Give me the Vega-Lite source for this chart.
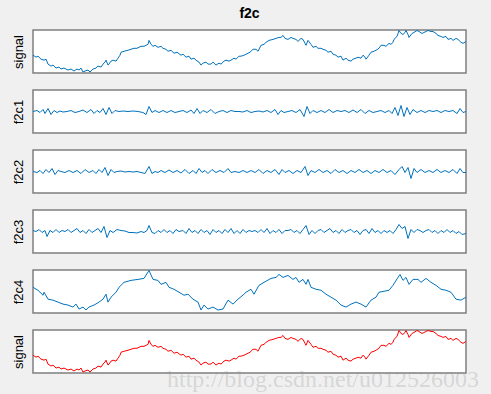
{
  "$schema": "https://vega.github.io/schema/vega-lite/v6.json",
  "autosize": {"type": "pad"},
  "padding": {"left": 11, "top": 6, "right": 13, "bottom": 8},
  "background": "#f0f0f0",
  "bounds": "flush",
  "spacing": 17,
  "config": {
    "view": {"stroke": "#7f7f7f", "strokeWidth": 1.5, "fill": "white"},
    "axis": {"domain": false, "ticks": false, "labels": false, "grid": false, "titleFont": "Liberation Sans", "titleFontSize": 13, "titleFontWeight": "normal", "titleColor": "#000000", "titlePadding": 8},
    "title": {"font": "Liberation Sans", "fontSize": 13, "fontWeight": "bold", "color": "#000000"}
  },
  "datasets": {
    "signal": [
      {"t":0,"v":18},{"t":3,"v":16},{"t":5,"v":17},{"t":8,"v":14},{"t":11,"v":13},{"t":13,"v":14},{"t":15,"v":9},{"t":18,"v":7},{"t":20,"v":8},{"t":23,"v":5},{"t":26,"v":6},{"t":28,"v":4},{"t":31,"v":5},{"t":35,"v":3},{"t":38,"v":4},{"t":41,"v":2},{"t":44,"v":4},{"t":46,"v":3},{"t":48,"v":5},{"t":50,"v":1},{"t":52,"v":2},{"t":55,"v":3},{"t":57,"v":1},{"t":60,"v":4},{"t":63,"v":5},{"t":65,"v":7},{"t":68,"v":6},{"t":70,"v":9},{"t":72,"v":11},{"t":73,"v":13},{"t":75,"v":8},{"t":76,"v":9},{"t":78,"v":12},{"t":80,"v":13},{"t":83,"v":12},{"t":85,"v":15},{"t":87,"v":18},{"t":88,"v":21},{"t":91,"v":22},{"t":95,"v":23},{"t":98,"v":24},{"t":101,"v":25},{"t":104,"v":25},{"t":108,"v":27},{"t":111,"v":27},{"t":115,"v":29},{"t":116,"v":33},{"t":118,"v":29},{"t":120,"v":27},{"t":122,"v":28},{"t":125,"v":26},{"t":128,"v":27},{"t":130,"v":25},{"t":133,"v":24},{"t":135,"v":22},{"t":138,"v":23},{"t":141,"v":20},{"t":144,"v":21},{"t":148,"v":18},{"t":150,"v":19},{"t":153,"v":16},{"t":156,"v":17},{"t":158,"v":14},{"t":161,"v":15},{"t":163,"v":13},{"t":166,"v":11},{"t":168,"v":8},{"t":170,"v":10},{"t":173,"v":11},{"t":175,"v":9},{"t":178,"v":9},{"t":180,"v":11},{"t":183,"v":8},{"t":186,"v":10},{"t":188,"v":9},{"t":191,"v":12},{"t":193,"v":13},{"t":196,"v":12},{"t":198,"v":13},{"t":201,"v":15},{"t":203,"v":14},{"t":206,"v":17},{"t":208,"v":17},{"t":211,"v":18},{"t":213,"v":19},{"t":217,"v":21},{"t":220,"v":24},{"t":223,"v":24},{"t":225,"v":22},{"t":228,"v":28},{"t":231,"v":29},{"t":233,"v":31},{"t":236,"v":33},{"t":240,"v":34},{"t":243,"v":35},{"t":246,"v":36},{"t":248,"v":36},{"t":250,"v":38},{"t":252,"v":35},{"t":255,"v":34},{"t":258,"v":36},{"t":260,"v":35},{"t":263,"v":34},{"t":265,"v":32},{"t":268,"v":35},{"t":270,"v":34},{"t":272,"v":30},{"t":273,"v":28},{"t":275,"v":33},{"t":278,"v":29},{"t":280,"v":26},{"t":283,"v":27},{"t":285,"v":25},{"t":288,"v":25},{"t":290,"v":24},{"t":293,"v":23},{"t":295,"v":21},{"t":298,"v":22},{"t":300,"v":19},{"t":303,"v":18},{"t":305,"v":16},{"t":308,"v":17},{"t":310,"v":13},{"t":313,"v":15},{"t":315,"v":13},{"t":318,"v":12},{"t":320,"v":14},{"t":323,"v":15},{"t":325,"v":16},{"t":328,"v":15},{"t":330,"v":18},{"t":332,"v":16},{"t":333,"v":14},{"t":336,"v":18},{"t":338,"v":21},{"t":341,"v":22},{"t":343,"v":23},{"t":346,"v":25},{"t":348,"v":28},{"t":351,"v":28},{"t":353,"v":27},{"t":356,"v":30},{"t":358,"v":29},{"t":360,"v":31},{"t":361,"v":34},{"t":364,"v":37},{"t":366,"v":43},{"t":368,"v":40},{"t":370,"v":39},{"t":372,"v":41},{"t":373,"v":43},{"t":375,"v":39},{"t":376,"v":36},{"t":379,"v":40},{"t":381,"v":41},{"t":384,"v":43},{"t":386,"v":42},{"t":389,"v":40},{"t":391,"v":41},{"t":393,"v":42},{"t":395,"v":43},{"t":398,"v":42},{"t":400,"v":42},{"t":403,"v":40},{"t":405,"v":38},{"t":408,"v":37},{"t":410,"v":36},{"t":413,"v":37},{"t":415,"v":34},{"t":418,"v":35},{"t":420,"v":33},{"t":423,"v":35},{"t":425,"v":34},{"t":428,"v":31},{"t":430,"v":30},{"t":433,"v":32}
    ],
    "f2c1": [
      {"t":0,"v":0},{"t":4,"v":1},{"t":7,"v":-1},{"t":10,"v":2},{"t":12,"v":-2},{"t":15,"v":3},{"t":18,"v":-3},{"t":21,"v":1},{"t":24,"v":-1},{"t":27,"v":0.5},{"t":30,"v":-0.5},{"t":34,"v":0},{"t":38,"v":1},{"t":42,"v":-1},{"t":46,"v":0},{"t":50,"v":1.5},{"t":54,"v":-1},{"t":58,"v":2},{"t":61,"v":-2},{"t":64,"v":1},{"t":67,"v":-1},{"t":70,"v":3},{"t":73,"v":-3},{"t":76,"v":4},{"t":79,"v":-2},{"t":82,"v":1},{"t":86,"v":0},{"t":90,"v":0.5},{"t":95,"v":0},{"t":100,"v":0.5},{"t":105,"v":0},{"t":110,"v":-1},{"t":113,"v":-3},{"t":116,"v":5},{"t":119,"v":-1},{"t":122,"v":1},{"t":126,"v":-1},{"t":130,"v":1},{"t":134,"v":-1},{"t":138,"v":1},{"t":142,"v":-1},{"t":146,"v":0},{"t":150,"v":1},{"t":154,"v":-1},{"t":158,"v":1.5},{"t":161,"v":-2},{"t":164,"v":3},{"t":167,"v":-2},{"t":170,"v":1},{"t":174,"v":-1},{"t":178,"v":2},{"t":182,"v":-2},{"t":186,"v":0},{"t":190,"v":1},{"t":194,"v":-1},{"t":198,"v":1},{"t":202,"v":0},{"t":206,"v":0},{"t":210,"v":-0.5},{"t":214,"v":1},{"t":218,"v":-1},{"t":222,"v":0},{"t":226,"v":0.5},{"t":230,"v":-0.5},{"t":234,"v":1},{"t":238,"v":-1},{"t":242,"v":2},{"t":245,"v":-3},{"t":248,"v":1},{"t":251,"v":-1},{"t":255,"v":0},{"t":259,"v":1},{"t":263,"v":-1},{"t":267,"v":2},{"t":271,"v":-5},{"t":274,"v":5},{"t":277,"v":-2},{"t":280,"v":1},{"t":284,"v":-1},{"t":288,"v":1},{"t":292,"v":-1},{"t":296,"v":2},{"t":300,"v":-1},{"t":304,"v":1},{"t":308,"v":0},{"t":312,"v":1},{"t":316,"v":-1},{"t":320,"v":1.5},{"t":324,"v":-1},{"t":328,"v":2},{"t":332,"v":-2},{"t":336,"v":1},{"t":340,"v":-1},{"t":344,"v":0},{"t":348,"v":1},{"t":352,"v":-1},{"t":356,"v":1},{"t":359,"v":-2},{"t":362,"v":4},{"t":365,"v":-4},{"t":368,"v":6},{"t":371,"v":-5},{"t":374,"v":4},{"t":377,"v":-3},{"t":380,"v":2},{"t":384,"v":-1},{"t":388,"v":1},{"t":392,"v":-1},{"t":396,"v":1},{"t":400,"v":0},{"t":404,"v":1},{"t":408,"v":-1},{"t":412,"v":1},{"t":416,"v":0},{"t":420,"v":1},{"t":424,"v":-2},{"t":427,"v":3},{"t":430,"v":-1},{"t":433,"v":0}
    ],
    "f2c2": [
      {"t":0,"v":0},{"t":4,"v":-1},{"t":7,"v":1},{"t":10,"v":-2},{"t":13,"v":2},{"t":16,"v":-1},{"t":19,"v":3},{"t":22,"v":-3},{"t":25,"v":1},{"t":28,"v":0},{"t":32,"v":-1},{"t":36,"v":1},{"t":40,"v":-1},{"t":44,"v":1},{"t":48,"v":-2},{"t":52,"v":2},{"t":56,"v":-1},{"t":60,"v":1},{"t":63,"v":-2},{"t":66,"v":2},{"t":69,"v":-1},{"t":72,"v":4},{"t":75,"v":-4},{"t":78,"v":2},{"t":81,"v":-1},{"t":84,"v":0},{"t":88,"v":0.5},{"t":92,"v":-0.5},{"t":96,"v":0},{"t":100,"v":-0.5},{"t":104,"v":0},{"t":108,"v":-1},{"t":112,"v":-2},{"t":116,"v":5},{"t":119,"v":-2},{"t":122,"v":0},{"t":125,"v":-1},{"t":128,"v":1},{"t":132,"v":-1},{"t":136,"v":1.5},{"t":140,"v":-1},{"t":144,"v":1},{"t":148,"v":-1.5},{"t":152,"v":2},{"t":156,"v":-2},{"t":160,"v":1},{"t":163,"v":-2},{"t":166,"v":3},{"t":169,"v":-1},{"t":172,"v":1},{"t":175,"v":-2},{"t":179,"v":2},{"t":183,"v":-1},{"t":187,"v":1},{"t":191,"v":-1},{"t":195,"v":3},{"t":198,"v":-1},{"t":202,"v":0},{"t":206,"v":-1},{"t":210,"v":1},{"t":214,"v":-1},{"t":218,"v":1},{"t":222,"v":-1},{"t":226,"v":2},{"t":230,"v":-2},{"t":234,"v":1},{"t":238,"v":-1},{"t":242,"v":2},{"t":246,"v":-3},{"t":249,"v":2},{"t":252,"v":-1},{"t":256,"v":1},{"t":260,"v":-2},{"t":264,"v":1},{"t":268,"v":-1},{"t":272,"v":5},{"t":275,"v":-4},{"t":278,"v":1},{"t":282,"v":-1},{"t":286,"v":2},{"t":290,"v":-1},{"t":294,"v":1},{"t":298,"v":-2},{"t":302,"v":2},{"t":306,"v":-1},{"t":310,"v":1},{"t":314,"v":-2},{"t":318,"v":1},{"t":322,"v":-1},{"t":326,"v":2},{"t":330,"v":-1},{"t":334,"v":1},{"t":338,"v":-2},{"t":342,"v":1},{"t":346,"v":-1},{"t":350,"v":2},{"t":354,"v":-1},{"t":358,"v":1},{"t":362,"v":-3},{"t":366,"v":2},{"t":369,"v":5},{"t":372,"v":-1},{"t":375,"v":4},{"t":378,"v":-7},{"t":381,"v":3},{"t":384,"v":-1},{"t":388,"v":2},{"t":392,"v":-1},{"t":396,"v":1},{"t":400,"v":-1},{"t":404,"v":2},{"t":408,"v":-1},{"t":412,"v":1},{"t":416,"v":-1},{"t":420,"v":2},{"t":424,"v":-2},{"t":427,"v":3},{"t":430,"v":-1},{"t":433,"v":-1}
    ],
    "f2c3": [
      {"t":0,"v":1},{"t":3,"v":0},{"t":6,"v":2},{"t":9,"v":-1},{"t":12,"v":1},{"t":14,"v":-5},{"t":17,"v":1},{"t":20,"v":-1},{"t":23,"v":2},{"t":26,"v":-1},{"t":29,"v":1},{"t":32,"v":0},{"t":35,"v":2},{"t":38,"v":-1},{"t":41,"v":1},{"t":44,"v":3},{"t":47,"v":-1},{"t":50,"v":1},{"t":53,"v":-2},{"t":56,"v":2},{"t":59,"v":-1},{"t":62,"v":1},{"t":65,"v":3},{"t":68,"v":-1},{"t":71,"v":5},{"t":74,"v":-6},{"t":77,"v":1},{"t":80,"v":-1},{"t":84,"v":2},{"t":88,"v":1},{"t":92,"v":0.5},{"t":96,"v":-1},{"t":100,"v":-1},{"t":104,"v":-1.5},{"t":108,"v":0},{"t":111,"v":-1},{"t":114,"v":1},{"t":116,"v":6},{"t":119,"v":-1},{"t":122,"v":-2},{"t":125,"v":1},{"t":128,"v":-1},{"t":131,"v":2},{"t":134,"v":-1},{"t":137,"v":1},{"t":140,"v":-2},{"t":143,"v":2},{"t":146,"v":0},{"t":150,"v":1},{"t":153,"v":-2},{"t":156,"v":3},{"t":159,"v":-1},{"t":162,"v":1},{"t":165,"v":-2},{"t":168,"v":2},{"t":171,"v":-1},{"t":174,"v":1},{"t":177,"v":-3},{"t":180,"v":2},{"t":183,"v":-1},{"t":186,"v":1},{"t":189,"v":-2},{"t":192,"v":2},{"t":195,"v":-1},{"t":198,"v":3},{"t":201,"v":-2},{"t":204,"v":1},{"t":207,"v":-2},{"t":210,"v":2},{"t":213,"v":-1},{"t":216,"v":1},{"t":219,"v":0},{"t":222,"v":1},{"t":225,"v":-1},{"t":228,"v":2},{"t":231,"v":-1},{"t":234,"v":3},{"t":237,"v":-2},{"t":240,"v":1},{"t":243,"v":-1},{"t":246,"v":2},{"t":249,"v":-2},{"t":252,"v":1},{"t":255,"v":1},{"t":258,"v":2},{"t":261,"v":-1},{"t":264,"v":1},{"t":267,"v":-2},{"t":270,"v":2},{"t":273,"v":6},{"t":276,"v":-3},{"t":279,"v":1},{"t":282,"v":-2},{"t":285,"v":1},{"t":288,"v":2},{"t":291,"v":-1},{"t":294,"v":1},{"t":297,"v":3},{"t":300,"v":-1},{"t":303,"v":1},{"t":306,"v":-2},{"t":309,"v":2},{"t":312,"v":-1},{"t":315,"v":1},{"t":318,"v":2},{"t":321,"v":-1},{"t":324,"v":1},{"t":327,"v":-3},{"t":330,"v":1},{"t":333,"v":2},{"t":336,"v":-2},{"t":339,"v":3},{"t":342,"v":-1},{"t":345,"v":1},{"t":348,"v":-2},{"t":351,"v":1},{"t":354,"v":-1},{"t":357,"v":1},{"t":360,"v":-2},{"t":363,"v":2},{"t":366,"v":7},{"t":369,"v":3},{"t":372,"v":5},{"t":375,"v":-7},{"t":378,"v":2},{"t":381,"v":-1},{"t":384,"v":2},{"t":387,"v":1},{"t":390,"v":-1},{"t":393,"v":1},{"t":396,"v":2},{"t":399,"v":-1},{"t":402,"v":1},{"t":405,"v":-2},{"t":408,"v":1},{"t":411,"v":-1},{"t":414,"v":2},{"t":417,"v":-1},{"t":420,"v":1},{"t":423,"v":-2},{"t":426,"v":0},{"t":429,"v":-3},{"t":433,"v":-2}
    ],
    "f2c4": [
      {"t":0,"v":26},{"t":5,"v":23},{"t":10,"v":18},{"t":11,"v":21},{"t":15,"v":14},{"t":20,"v":13},{"t":25,"v":11},{"t":30,"v":9},{"t":35,"v":8},{"t":40,"v":6},{"t":43,"v":9},{"t":46,"v":4},{"t":50,"v":6},{"t":53,"v":3},{"t":56,"v":6},{"t":61,"v":8},{"t":66,"v":11},{"t":70,"v":14},{"t":73,"v":19},{"t":75,"v":11},{"t":78,"v":16},{"t":83,"v":21},{"t":86,"v":26},{"t":91,"v":31},{"t":98,"v":33},{"t":105,"v":34},{"t":111,"v":35},{"t":116,"v":43},{"t":120,"v":34},{"t":125,"v":33},{"t":128,"v":29},{"t":133,"v":31},{"t":136,"v":26},{"t":141,"v":24},{"t":146,"v":21},{"t":151,"v":18},{"t":155,"v":19},{"t":160,"v":14},{"t":165,"v":11},{"t":168,"v":3},{"t":171,"v":8},{"t":175,"v":4},{"t":180,"v":6},{"t":185,"v":3},{"t":190,"v":4},{"t":195,"v":13},{"t":200,"v":9},{"t":205,"v":14},{"t":211,"v":19},{"t":213,"v":21},{"t":218,"v":24},{"t":221,"v":19},{"t":226,"v":28},{"t":231,"v":31},{"t":238,"v":35},{"t":243,"v":36},{"t":246,"v":39},{"t":250,"v":36},{"t":255,"v":38},{"t":260,"v":34},{"t":263,"v":36},{"t":266,"v":31},{"t":270,"v":34},{"t":273,"v":29},{"t":275,"v":34},{"t":278,"v":26},{"t":283,"v":24},{"t":288,"v":23},{"t":293,"v":19},{"t":298,"v":16},{"t":303,"v":13},{"t":308,"v":8},{"t":313,"v":6},{"t":318,"v":9},{"t":323,"v":11},{"t":328,"v":9},{"t":333,"v":6},{"t":338,"v":13},{"t":343,"v":16},{"t":346,"v":21},{"t":351,"v":22},{"t":356,"v":23},{"t":360,"v":28},{"t":365,"v":36},{"t":367,"v":39},{"t":370,"v":33},{"t":373,"v":36},{"t":376,"v":29},{"t":380,"v":34},{"t":385,"v":34},{"t":388,"v":31},{"t":393,"v":35},{"t":398,"v":31},{"t":403,"v":28},{"t":408,"v":24},{"t":413,"v":23},{"t":418,"v":21},{"t":423,"v":14},{"t":428,"v":13},{"t":433,"v":16}
    ]
  },
  "vconcat": [
    {
      "width": 433, "height": 43,
      "title": {"text": "f2c", "anchor": "middle", "frame": "group", "offset": 7, "fontSize": 14},
      "data": {"name": "signal"},
      "mark": {"type": "line", "color": "#0072BD", "strokeWidth": 1},
      "encoding": {
        "x": {"field": "t", "type": "quantitative", "scale": {"domain": [0, 433], "nice": false}, "axis": null},
        "y": {"field": "v", "type": "quantitative", "scale": {"domain": [0, 43.5], "nice": false, "zero": false}, "axis": {"title": "signal"}}
      }
    },
    {
      "width": 433, "height": 43,
      "data": {"name": "f2c1"},
      "mark": {"type": "line", "color": "#0072BD", "strokeWidth": 1},
      "encoding": {
        "x": {"field": "t", "type": "quantitative", "scale": {"domain": [0, 433], "nice": false}, "axis": null},
        "y": {"field": "v", "type": "quantitative", "scale": {"domain": [-21.5, 21.5], "nice": false, "zero": false}, "axis": {"title": "f2c1"}}
      }
    },
    {
      "width": 433, "height": 43,
      "data": {"name": "f2c2"},
      "mark": {"type": "line", "color": "#0072BD", "strokeWidth": 1},
      "encoding": {
        "x": {"field": "t", "type": "quantitative", "scale": {"domain": [0, 433], "nice": false}, "axis": null},
        "y": {"field": "v", "type": "quantitative", "scale": {"domain": [-21.5, 21.5], "nice": false, "zero": false}, "axis": {"title": "f2c2"}}
      }
    },
    {
      "width": 433, "height": 43,
      "data": {"name": "f2c3"},
      "mark": {"type": "line", "color": "#0072BD", "strokeWidth": 1},
      "encoding": {
        "x": {"field": "t", "type": "quantitative", "scale": {"domain": [0, 433], "nice": false}, "axis": null},
        "y": {"field": "v", "type": "quantitative", "scale": {"domain": [-21.5, 21.5], "nice": false, "zero": false}, "axis": {"title": "f2c3"}}
      }
    },
    {
      "width": 433, "height": 43,
      "data": {"name": "f2c4"},
      "mark": {"type": "line", "color": "#0072BD", "strokeWidth": 1},
      "encoding": {
        "x": {"field": "t", "type": "quantitative", "scale": {"domain": [0, 433], "nice": false}, "axis": null},
        "y": {"field": "v", "type": "quantitative", "scale": {"domain": [0, 43.5], "nice": false, "zero": false}, "axis": {"title": "f2c4"}}
      }
    },
    {
      "width": 433, "height": 43,
      "title": {"text": "http://blog.csdn.net/u012526003", "orient": "bottom", "anchor": "end", "frame": "group", "offset": -6, "dx": 13, "font": "Liberation Serif", "fontSize": 24, "fontWeight": "normal", "color": "rgba(150,150,150,0.3)"},
      "data": {"name": "signal"},
      "mark": {"type": "line", "color": "#FF0000", "strokeWidth": 1},
      "encoding": {
        "x": {"field": "t", "type": "quantitative", "scale": {"domain": [0, 433], "nice": false}, "axis": null},
        "y": {"field": "v", "type": "quantitative", "scale": {"domain": [0, 43.5], "nice": false, "zero": false}, "axis": {"title": "signal"}}
      }
    }
  ]
}
